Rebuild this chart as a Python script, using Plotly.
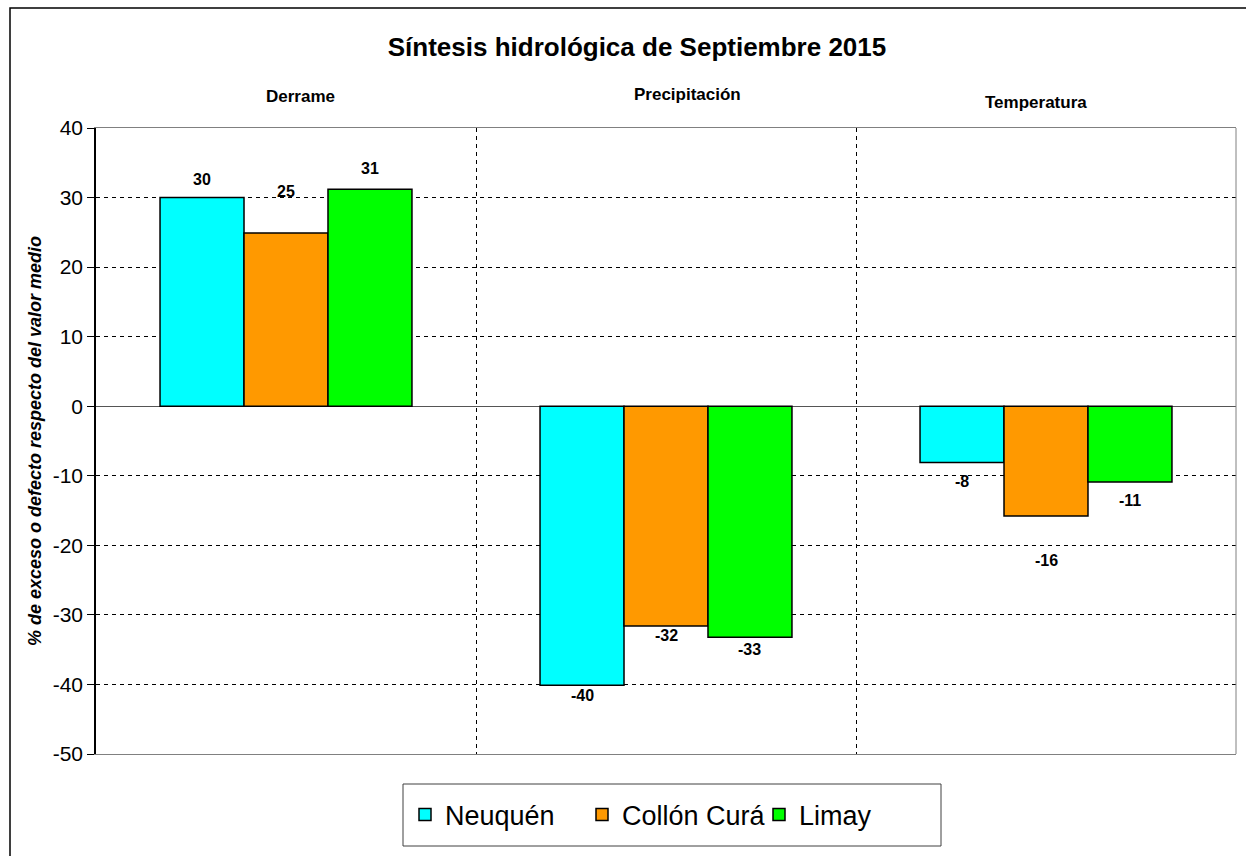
import plotly.graph_objects as go

categories = ["Derrame", "Precipitación", "Temperatura"]
series_names = ["Neuquén", "Collón Curá", "Limay"]
neuquen = [30.0, -40.1, -8.1]
collon_cura = [24.9, -31.6, -15.8]
limay = [31.2, -33.2, -10.9]
y_ticks = [40, 30, 20, 10, 0, -10, -20, -30, -40, -50]

values = [neuquen, collon_cura, limay]
colors = ["#00FFFF", "#FF9900", "#00FF00"]
# pixel offset (up = positive) of each value label from its bar end (styling only)
label_shift = [[18, -10, -19], [42, -9, -44], [21, -12, -18]]
# pixel nudges of the category headings (styling only)
cat_xshift = [14, 21, -10]
cat_yshift = [0, 2, -6]

W, H = 1246, 856
L, R, T, B = 96, 10, 128, 102
pw, ph = W - L - R, H - T - B
FONT = "Liberation Sans, Arial"

def px_x(x):
    return (x - L) / pw

def px_y(y):
    return (H - B - y) / ph

fig = go.Figure()
for name, vals, col in zip(series_names, values, colors):
    fig.add_trace(go.Bar(
        name=name, x=categories, y=vals,
        marker=dict(color=col, line=dict(color="black", width=1.5)),
        offsetgroup=name,
    ))

# value labels
n = len(series_names)
gap = 0.337
bw = (1 - gap) / n
annotations = []
for si, vals in enumerate(values):
    for ci, v in enumerate(vals):
        xoff = -((1 - gap) / 2) + bw * (si + 0.5)
        annotations.append(dict(
            x=ci + xoff, y=v, xref="x", yref="y",
            text="<b>%d</b>" % round(v), showarrow=False,
            yshift=label_shift[si][ci],
            font=dict(family=FONT, size=16, color="black"),
        ))

# category headings above the plot
for ci, c in enumerate(categories):
    annotations.append(dict(
        x=c, y=1, xref="x", yref="paper", yanchor="bottom",
        text="<b>%s</b>" % c, showarrow=False,
        xshift=cat_xshift[ci], yshift=20 + cat_yshift[ci],
        font=dict(family=FONT, size=17, color="black"),
    ))

shapes = [
    # right plot border
    dict(type="line", xref="paper", yref="paper", x0=1, x1=1, y0=0, y1=1,
         line=dict(color="#808080", width=1)),
    # legend box
    dict(type="rect", xref="paper", yref="paper",
         x0=px_x(403), x1=px_x(941), y0=px_y(846), y1=px_y(784),
         line=dict(color="#404040", width=1), fillcolor="white", layer="below"),
    # outer chart border
    dict(type="rect", xref="paper", yref="paper",
         x0=px_x(10), x1=px_x(1260), y0=px_y(870), y1=px_y(8),
         line=dict(color="black", width=1.5), fillcolor="rgba(0,0,0,0)"),
]

fig.update_layout(
    width=W, height=H,
    margin=dict(l=L, r=R, t=T, b=B),
    paper_bgcolor="white", plot_bgcolor="white",
    barmode="group", bargap=gap, bargroupgap=0,
    title=dict(text="<b>Síntesis hidrológica de Septiembre 2015</b>",
               x=637 / W, xref="container", xanchor="center",
               y=1 - 47 / H, yref="container", yanchor="middle",
               font=dict(family=FONT, size=26, color="black")),
    font=dict(family=FONT, color="black"),
    showlegend=True,
    legend=dict(orientation="h", x=px_x(405), xanchor="left",
                y=px_y(815), yanchor="middle",
                bgcolor="rgba(0,0,0,0)", borderwidth=0,
                entrywidth=132, entrywidthmode="pixels",
                font=dict(family=FONT, size=27, color="black")),
    annotations=annotations,
    shapes=shapes,
)

fig.update_xaxes(
    side="top", type="category", tickson="boundaries",
    showgrid=True, gridcolor="black", griddash="4px,4px", gridwidth=1,
    showline=True, mirror=True, linecolor="#808080", linewidth=1,
    ticks="", showticklabels=False,
    range=[-0.5, 2.5],
)
fig.update_yaxes(
    range=[-50, 40], tickvals=y_ticks, ticktext=[str(t) for t in y_ticks],
    showgrid=True, gridcolor="black", griddash="4px,4px", gridwidth=1,
    zeroline=True, zerolinecolor="#555555", zerolinewidth=1,
    showline=True, linecolor="black", linewidth=1.5,
    ticks="outside", ticklen=7, tickcolor="black",
    tickfont=dict(family=FONT, size=21, color="black"),
    title=dict(text="<b><i>% de exceso o defecto respecto del valor medio</i></b>",
               font=dict(family=FONT, size=18, color="black"),
               standoff=6),
)

fig.write_html("out.html", config={"displayModeBar": False},
               post_script="document.body.style.margin='0';")
